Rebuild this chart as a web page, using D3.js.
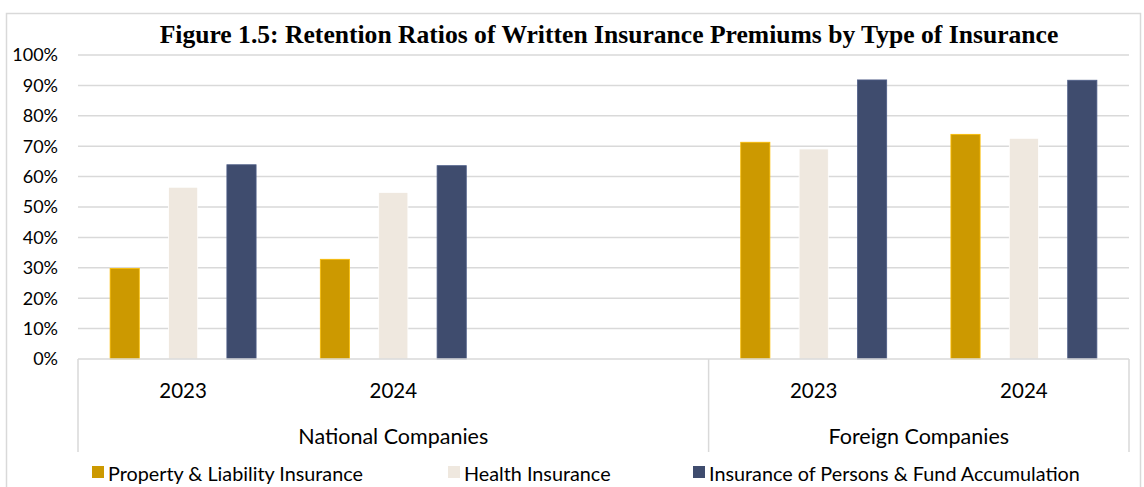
<!DOCTYPE html>
<html>
<head>
<meta charset="utf-8">
<script src="https://cdn.jsdelivr.net/npm/d3@7"></script>
<style>
  body { margin: 0; background: #fff; }
  svg { display: block; }
</style>
</head>
<body>
<div id="chart"></div>
<script>
const width = 1144, height = 487
const margin = { top: 55, left: 78, right: 15, baseline: 359 }

// data
const groups = ["National Companies", "Foreign Companies"]
const groupYears = [["2023", "2024", ""], ["2023", "2024"]]
const seriesNames = ["Property & Liability Insurance", "Health Insurance", "Insurance of Persons & Fund Accumulation"]
const colors = ["#CC9900", "#EFE8DF", "#3F4C6E"]
const propertyLiability = [29.8, 32.8, null, 71.3, 73.9]
const health = [56.5, 54.8, null, 69.1, 72.6]
const personsFund = [63.9, 63.6, null, 91.8, 91.7]
const yTicks = [0, 10, 20, 30, 40, 50, 60, 70, 80, 90, 100]

const series = [propertyLiability, health, personsFund]

// flat category list (group|year)
const cats = []
groups.forEach((g, gi) => groupYears[gi].forEach((yr, yi) => cats.push(g + "|" + yi)))

const svg = d3.select("#chart").append("svg")
  .attr("width", width)
  .attr("height", height)

const font = "Lato, 'Open Sans', sans-serif"

// outer frame
svg.append("rect")
  .attr("x", 6.5).attr("y", 13.5)
  .attr("width", 1134).attr("height", 520)
  .attr("fill", "none")
  .attr("stroke", "#d9d9d9")
  .attr("stroke-width", 1.5)

// title
svg.append("text")
  .attr("x", 609)
  .attr("y", 43)
  .attr("text-anchor", "middle")
  .style("font-family", "'Liberation Serif', 'Times New Roman', serif")
  .style("font-weight", "bold")
  .style("font-size", "25.6px")
  .text("Figure 1.5: Retention Ratios of Written Insurance Premiums by Type of Insurance")

const plotRight = 1129
const x = d3.scaleBand().domain(cats).range([margin.left, plotRight]).padding(0)
const y = d3.scaleLinear().domain([0, 100]).range([margin.baseline, margin.top])

// grid
svg.append("g")
  .selectAll("line")
  .data(yTicks.slice(1))
  .join("line")
  .attr("x1", margin.left).attr("x2", plotRight)
  .attr("y1", d => y(d)).attr("y2", d => y(d))
  .attr("stroke", "#d9d9d9")
  .attr("stroke-width", 1.5)

// y labels
svg.append("g")
  .selectAll("text")
  .data(yTicks)
  .join("text")
  .attr("x", 58)
  .attr("y", d => y(d))
  .attr("dy", "0.35em")
  .attr("text-anchor", "end")
  .style("font-family", font)
  .style("font-size", "18px")
  .style("fill", "#000")
  .text(d => d + "%")

// bars
const inner = d3.scaleBand().domain(d3.range(series.length)).range([0, x.bandwidth()]).paddingInner(0.5).paddingOuter(0.55)
series.forEach((vals, si) => {
  svg.append("g")
    .selectAll("rect")
    .data(vals.map((v, i) => ({ v, c: cats[i] })).filter(d => d.v != null))
    .join("rect")
    .attr("x", d => x(d.c) + inner(si))
    .attr("width", inner.bandwidth())
    .attr("y", d => y(d.v))
    .attr("height", d => y(0) - y(d.v))
    .attr("fill", colors[si])
    .attr("stroke", d3.color(colors[si]).brighter(0.6))
    .attr("stroke-width", 0.8)
})

// category axis box
const axisBottom = 452
svg.append("line")
  .attr("x1", margin.left).attr("x2", plotRight)
  .attr("y1", margin.baseline).attr("y2", margin.baseline)
  .attr("stroke", "#d9d9d9").attr("stroke-width", 1.5)

let start = 0
const seps = [margin.left]
groups.forEach((g, gi) => {
  start += groupYears[gi].length
  seps.push(start === cats.length ? plotRight : x(cats[start]))
})
svg.append("g")
  .selectAll("line")
  .data(seps)
  .join("line")
  .attr("x1", d => d).attr("x2", d => d)
  .attr("y1", margin.baseline).attr("y2", axisBottom)
  .attr("stroke", "#d9d9d9").attr("stroke-width", 1.5)

// year labels
svg.append("g")
  .selectAll("text")
  .data(cats)
  .join("text")
  .attr("x", d => x(d) + x.bandwidth() / 2)
  .attr("y", 398)
  .attr("text-anchor", "middle")
  .style("font-family", font)
  .style("font-size", "20.5px")
  .text(d => {
    const [g, yi] = d.split("|")
    return groupYears[groups.indexOf(g)][+yi]
  })

// group labels
svg.append("g")
  .selectAll("text")
  .data(groups)
  .join("text")
  .attr("x", (d, gi) => (seps[gi] + seps[gi + 1]) / 2)
  .attr("y", 444)
  .attr("text-anchor", "middle")
  .style("font-family", font)
  .style("font-size", "21.5px")
  .text(d => d)

// legend
const legendX = [92, 448, 693]
const legend = svg.append("g")
  .selectAll("g")
  .data(seriesNames)
  .join("g")
  .attr("transform", (d, i) => `translate(${legendX[i]}, 466)`)
legend.append("rect")
  .attr("width", 12).attr("height", 12)
  .attr("fill", (d, i) => colors[i])
legend.append("text")
  .attr("x", 16)
  .attr("y", 15)
  .style("font-family", font)
  .style("font-size", "19.8px")
  .text(d => d)
</script>
</body>
</html>
